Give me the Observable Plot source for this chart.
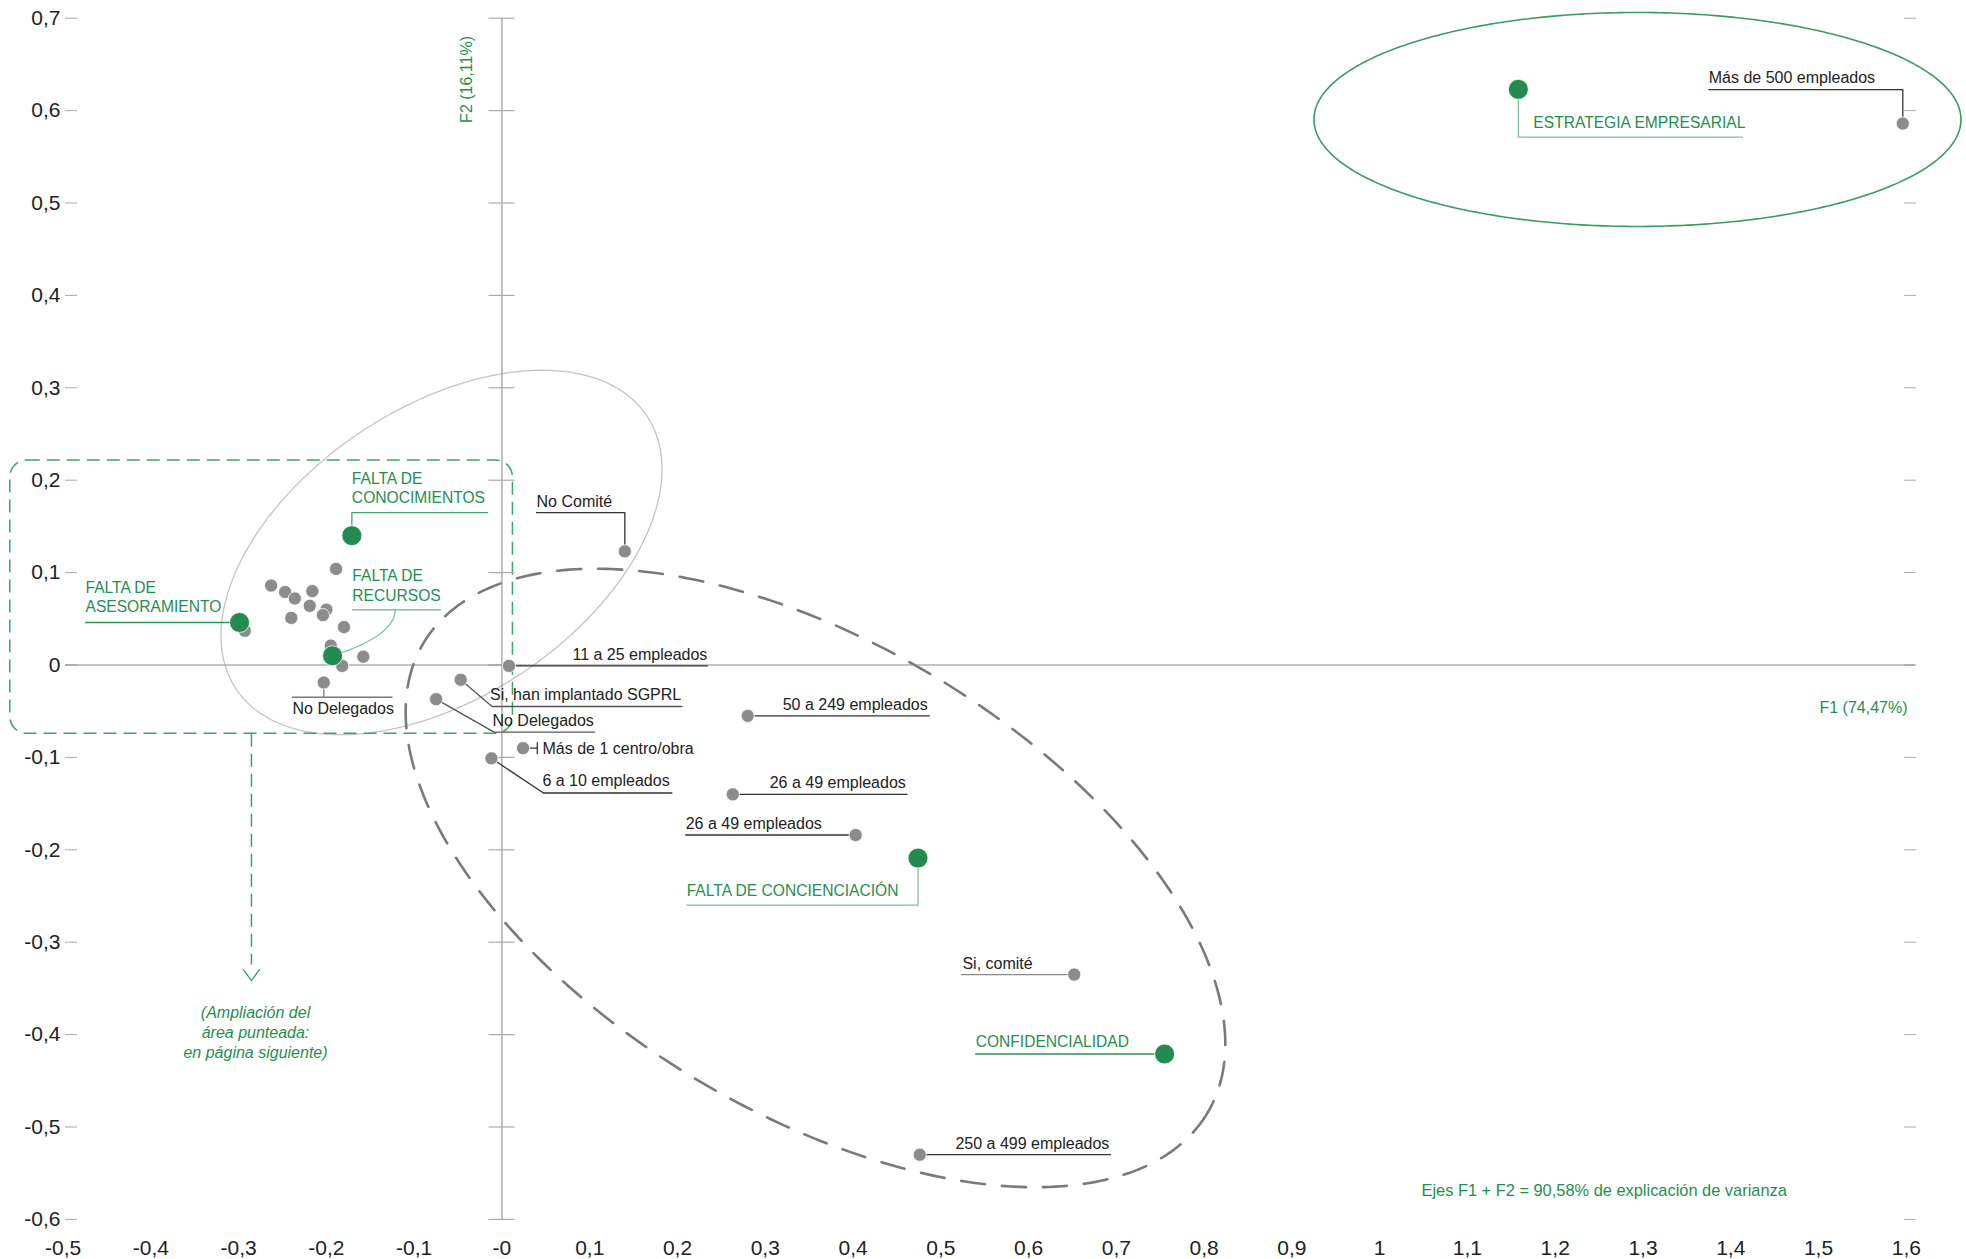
<!DOCTYPE html>
<html>
<head>
<meta charset="utf-8">
<script src="https://cdn.jsdelivr.net/npm/d3@7"></script>
<script src="https://cdn.jsdelivr.net/npm/@observablehq/plot@0.6"></script>
<style>
html, body { margin: 0; padding: 0; background: #fff; }
#chart svg { display: block; }
</style>
</head>
<body>
<div id="chart"></div>
<script>
// ---------- DATA ----------
// Motivos (green points)
const motivos = ["ESTRATEGIA EMPRESARIAL", "FALTA DE\nCONOCIMIENTOS", "FALTA DE\nASESORAMIENTO", "FALTA DE\nRECURSOS", "FALTA DE CONCIENCIACIÓN", "CONFIDENCIALIDAD"];
const motivosF1 = [1.158, -0.171, -0.299, -0.193, 0.474, 0.755];
const motivosF2 = [0.623, 0.140, 0.046, 0.010, -0.209, -0.421];

// Labelled profile categories (grey points)
const perfiles = ["Más de 500 empleados", "No Comité", "11 a 25 empleados", "Si, han implantado SGPRL", "No Delegados", "Más de 1 centro/obra", "6 a 10 empleados", "50 a 249 empleados", "26 a 49 empleados", "26 a 49 empleados", "Si, comité", "250 a 499 empleados", "No Delegados"];
const perfilesF1 = [1.596, 0.140, 0.008, -0.047, -0.075, 0.024, -0.012, 0.280, 0.263, 0.403, 0.652, 0.476, -0.203];
const perfilesF2 = [0.586, 0.123, -0.001, -0.016, -0.037, -0.090, -0.101, -0.055, -0.140, -0.184, -0.335, -0.530, -0.019];

// Unlabelled grey points in the dotted area
const otrosF1 = [-0.263, -0.247, -0.236, -0.216, -0.219, -0.200, -0.204, -0.240, -0.189, -0.180, -0.293, -0.195, -0.158, -0.182];
const otrosF2 = [0.086, 0.079, 0.072, 0.080, 0.064, 0.060, 0.054, 0.051, 0.104, 0.041, 0.037, 0.021, 0.009, -0.001];

// Axis ticks and labels
const xTicks = [-0.5, -0.4, -0.3, -0.2, -0.1, 0, 0.1, 0.2, 0.3, 0.4, 0.5, 0.6, 0.7, 0.8, 0.9, 1, 1.1, 1.2, 1.3, 1.4, 1.5, 1.6];
const xTickLabels = ["-0,5", "-0,4", "-0,3", "-0,2", "-0,1", "-0", "0,1", "0,2", "0,3", "0,4", "0,5", "0,6", "0,7", "0,8", "0,9", "1", "1,1", "1,2", "1,3", "1,4", "1,5", "1,6"];
const yTicks = [0.7, 0.6, 0.5, 0.4, 0.3, 0.2, 0.1, 0, -0.1, -0.2, -0.3, -0.4, -0.5, -0.6];
const yTickLabels = ["0,7", "0,6", "0,5", "0,4", "0,3", "0,2", "0,1", "0", "-0,1", "-0,2", "-0,3", "-0,4", "-0,5", "-0,6"];

// Texts
const ejeF1 = "F1 (74,47%)";
const ejeF2 = "F2 (16,11%)";
const notaVarianza = "Ejes F1 + F2 = 90,58% de explicación de varianza";
const notaAmpliacion = "(Ampliación del\nárea punteada:\nen página siguiente)";

// ---------- LAYOUT (annotation geometry, px offsets from each point) ----------
const W = 1966, H = 1259;
const xDomain = [-0.5, 1.6], yDomain = [-0.6, 0.7];
const xRange = [62.6, 1905.8], yRange = [1218.9, 17.7];
const pxX = (xRange[1] - xRange[0]) / (xDomain[1] - xDomain[0]);
const pxY = (yRange[0] - yRange[1]) / (yDomain[1] - yDomain[0]);
const offX = (x, dx) => x + dx / pxX;
const offY = (y, dy) => y - dy / pxY;

const perfilLeaders = [
  [[0, 0], [0, -34], [-194, -34]],
  [[0, 0], [0, -38.7], [-88.3, -38.7]],
  [[0, 0], [198.4, 0]],
  [[0, 0], [31.3, 26.7], [221.3, 26.7]],
  [[0, 0], [57.9, 33], [158.3, 33]],
  [[0, 0], [14.3, 0]],
  [[0, 0], [52, 34.7], [180.4, 34.7]],
  [[0, 0], [181.6, 0]],
  [[0, 0], [174.4, 0]],
  [[0, 0], [-170, 0]],
  [[0, 0], [-112.8, 0]],
  [[0, 0], [190.7, 0]],
  [[0, 0], [0, 14.7]]
];
const perfilExtras = [[5, [[14.3, -5.5], [14.3, 5.5]]], [12, [[-31.3, 14.7], [68.3, 14.7]]]];
const perfilTone = ["#333", "#333", "#333", "#555", "#555", "#333", "#333", "#333", "#333", "#333", "#8a8a8a", "#333", "#777"];
const perfilText = [[-194, -40.7, "start"], [-88.3, -44.7, "start"], [198.4, -6, "end"], [29.3, 20, "start"], [56.3, 26.7, "start"], [19.5, 5.6, "start"], [51, 28, "start"], [180, -6, "end"], [173, -6, "end"], [-170, -5.7, "start"], [-111.8, -6, "start"], [189.6, -6, "end"], [-31.3, 31.3, "start"]];

const motivoLeaders = [
  [[0, 0], [0, 47.7], [224, 47.7]],
  [[0, 0], [0, -23], [135.7, -23]],
  [[0, 0], [-154, 0]],
  [[19.8, -46], [107.7, -46]],
  [[0, 0], [0, 47], [-231.3, 47]],
  [[0, 0], [-189, 0]]
];
const motivoTone = ["#7cc49a", "#3fa56b", "#2a9658", "#7cc49a", "#7cc49a", "#2a9658"];
const motivoText = [[15, 39], [0, -32.3], [-154, -10], [19.8, -55], [-231.3, 38.3], [-189, -7]];
// curved leader for FALTA DE RECURSOS (quadratic bezier: start, control, end)
const curvaRecursos = [3, [0, 0], [62.6, -20], [62.6, -46]];

// ellipses: centre (data), semi-axes (px), rotation (deg, screen)
const elipses = [
  {cx: 1.2937, cy: 0.5904, a: 323.5, b: 107, ang: 0, stroke: "#3a9c62", width: 1.6, dash: null},
  {cx: -0.0689, cy: 0.1218, a: 246.6, b: 145, ang: -33.6, stroke: "#c4c4c4", width: 1.3, dash: null},
  {cx: 0.3572, cy: -0.2305, a: 457, b: 234, ang: 31, stroke: "#7a7a7a", width: 2.6, dash: "24,17"}
];
const zonaPunteada = {x1: -0.5602, x2: 0.0125, y1: 0.2213, y2: -0.0745};
const flecha = {x: -0.2854, y1: -0.0745, y2: -0.3415};
const puntaFlecha = [[-8, -11], [0, 0], [8, -11]];
const posF1 = {x: 1.6014, y: -0.046};
const posF2 = {x: -0.0404, y: 0.6337};
const posVarianza = {x: 1.0476, y: -0.5687};
const posAmpliacion = {x: -0.2808, y: -0.4248};

// ---------- BUILD ROWS ----------
const green = "#238b4f", greenText = "#1f8f4f", greenDash = "#3aa56a";
const perfilRows = perfiles.map((n, i) => ({n, x: perfilesF1[i], y: perfilesF2[i], i}));
const motivoRows = motivos.map((n, i) => ({n, x: motivosF1[i], y: motivosF2[i], i}));
const otrosRows = otrosF1.map((x, i) => ({x, y: otrosF2[i]}));

const leaderRows = [];
perfilRows.forEach(p => {
  perfilLeaders[p.i].forEach(([dx, dy]) => leaderRows.push({id: "p" + p.i, x: offX(p.x, dx), y: offY(p.y, dy), tone: perfilTone[p.i]}));
});
perfilExtras.forEach(([i, pts]) => {
  const p = perfilRows[i];
  pts.forEach(([dx, dy]) => leaderRows.push({id: "e" + i, x: offX(p.x, dx), y: offY(p.y, dy), tone: perfilTone[i]}));
});
motivoRows.forEach(p => {
  motivoLeaders[p.i].forEach(([dx, dy]) => leaderRows.push({id: "m" + p.i, x: offX(p.x, dx), y: offY(p.y, dy), tone: motivoTone[p.i]}));
});
{
  const [i, p0, c, p2] = curvaRecursos;
  const p = motivoRows[i];
  for (let k = 0; k <= 20; k++) {
    const t = k / 20;
    const dx = (1 - t) * (1 - t) * p0[0] + 2 * t * (1 - t) * c[0] + t * t * p2[0];
    const dy = (1 - t) * (1 - t) * p0[1] + 2 * t * (1 - t) * c[1] + t * t * p2[1];
    leaderRows.push({id: "c" + i, x: offX(p.x, dx), y: offY(p.y, dy), tone: motivoTone[i]});
  }
}
const puntaRows = puntaFlecha.map(([dx, dy]) => ({x: offX(flecha.x, dx), y: offY(flecha.y2, dy)}));

const perfilTextRows = perfilRows.map(p => ({n: p.n, x: offX(p.x, perfilText[p.i][0]), y: offY(p.y, perfilText[p.i][1]), anchor: perfilText[p.i][2]}));
const motivoTextRows = motivoRows.map(p => ({n: p.n, x: offX(p.x, motivoText[p.i][0]), y: offY(p.y, motivoText[p.i][1])}));

function elipse(e) {
  const rows = [];
  const r = e.ang * Math.PI / 180;
  for (let k = 0; k <= 360; k++) {
    const t = 2 * Math.PI * k / 360;
    const ux = e.a * Math.cos(t), uy = e.b * Math.sin(t);
    const dx = ux * Math.cos(r) - uy * Math.sin(r);
    const dy = ux * Math.sin(r) + uy * Math.cos(r);
    rows.push({x: offX(e.cx, dx), y: offY(e.cy, dy)});
  }
  return rows;
}

const fmt = (ticks, labels) => d => {
  const k = ticks.findIndex(t => Math.abs(t - d) < 1e-9);
  return k >= 0 ? labels[k] : "";
};

const font = "'Liberation Sans', Arial, Helvetica, sans-serif";

const chart = Plot.plot({
  width: W,
  height: H,
  marginLeft: 77,
  marginRight: 63,
  marginTop: 18,
  marginBottom: 22,
  x: {domain: xDomain, range: xRange},
  y: {domain: yDomain, range: yRange},
  style: {fontFamily: font, fontSize: "21px", color: "#222", background: "#fff"},
  marks: [
    // ellipses
    ...elipses.map(e => Plot.line(elipse(e), {x: "x", y: "y", stroke: e.stroke, strokeWidth: e.width, strokeDasharray: e.dash, curve: "linear"})),
    // dotted zoom area and arrow
    Plot.rect([zonaPunteada], {x1: "x1", x2: "x2", y1: "y1", y2: "y2", rx: 17, fill: "none", stroke: greenDash, strokeWidth: 1.5, strokeDasharray: "13,7"}),
    Plot.link([flecha], {x1: "x", x2: "x", y1: "y1", y2: d => offY(d.y2, -16), stroke: greenDash, strokeWidth: 1.5, strokeDasharray: "13,7"}),
    Plot.line(puntaRows, {x: "x", y: "y", stroke: greenDash, strokeWidth: 1.4, curve: "linear"}),
    // axes
    Plot.axisY({anchor: "left", ticks: yTicks, tickFormat: fmt(yTicks, yTickLabels), tickSize: 12, tickPadding: 5, stroke: "#aaa", label: null, fontSize: 21}),
    Plot.axisY({anchor: "right", ticks: yTicks, tickFormat: () => "", tickSize: 12, stroke: "#aaa", label: null}),
    Plot.axisX({anchor: "bottom", ticks: xTicks, tickFormat: fmt(xTicks, xTickLabels), tickSize: 0, tickPadding: 3, label: null, fontSize: 21}),
    Plot.ruleX([0], {y1: yDomain[1], y2: yDomain[0], stroke: "#999", strokeWidth: 1.2}),
    Plot.ruleY(yTicks, {y: d => d, x1: offX(0, -13), x2: offX(0, 13), stroke: "#aaa", strokeWidth: 1.2}),
    Plot.ruleY([0], {x1: offX(xDomain[0], 2.4), x2: offX(xDomain[1], 9), stroke: "#8a8a8a", strokeWidth: 1.2}),
    // leaders
    Plot.line(leaderRows, {x: "x", y: "y", z: "id", stroke: "tone", strokeWidth: 1.3, curve: "linear"}),
    // points
    Plot.dot(otrosRows, {x: "x", y: "y", r: 6.6, fill: "#8c8c8c", stroke: "#fff", strokeWidth: 0.8}),
    Plot.dot(perfilRows, {x: "x", y: "y", r: 6.6, fill: "#8c8c8c", stroke: "#fff", strokeWidth: 0.8}),
    Plot.dot(motivoRows, {x: "x", y: "y", r: 10, fill: green, stroke: "#fff", strokeWidth: 0.8}),
    // labels
    Plot.text(perfilTextRows.filter(d => d.anchor === "start"), {x: "x", y: "y", text: "n", textAnchor: "start", lineAnchor: "bottom", fontSize: 16, fill: "#222"}),
    Plot.text(perfilTextRows.filter(d => d.anchor === "end"), {x: "x", y: "y", text: "n", textAnchor: "end", lineAnchor: "bottom", fontSize: 16, fill: "#222"}),
    Plot.text(motivoTextRows, {x: "x", y: "y", text: "n", textAnchor: "start", lineAnchor: "bottom", lineHeight: 1.26, fontSize: 15.6, fill: greenText}),
    Plot.text([ejeF1], {x: posF1.x, y: posF1.y, text: d => d, textAnchor: "end", fontSize: 16, fill: greenText}),
    Plot.text([ejeF2], {x: posF2.x, y: posF2.y, text: d => d, rotate: -90, fontSize: 16, fill: greenText}),
    Plot.text([notaVarianza], {x: posVarianza.x, y: posVarianza.y, text: d => d, textAnchor: "start", fontSize: 16.4, fill: greenText}),
    Plot.text([notaAmpliacion], {x: posAmpliacion.x, y: posAmpliacion.y, text: d => d, textAnchor: "middle", lineAnchor: "bottom", lineHeight: 1.22, fontSize: 16, fontStyle: "italic", fill: greenText})
  ]
});
document.getElementById("chart").appendChild(chart);
</script>
</body>
</html>
